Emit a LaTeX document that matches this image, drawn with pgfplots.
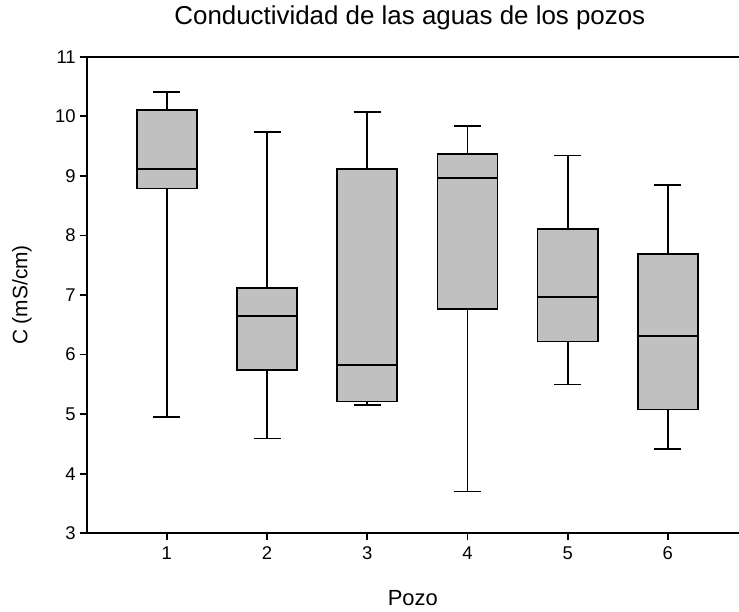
\documentclass[border=0pt]{standalone}
\usepackage{pgfplots}
\pgfplotsset{compat=1.18}
\usepgfplotslibrary{statistics}
\usepackage{fontspec}
\setmainfont{Liberation Sans}
\definecolor{boxgray}{RGB}{192,192,192}
\newcommand{\tickfont}{\fontsize{18.5}{18.5}\selectfont}

\begin{document}
\begin{tikzpicture}
  \begin{axis}[
      scale only axis,
      width=652.3bp, height=476.6bp,
      xmin=0.2, xmax=6.71,
      ymin=3, ymax=11,
      xtick={1,2,3,4,5,6},
      ytick={3,4,5,6,7,8,9,10,11},
      xticklabel={\tickfont\pgfmathprintnumber[assume math mode=true]{\tick}},
      yticklabel={\tickfont\pgfmathprintnumber[assume math mode=true]{\tick}},
      xtick pos=bottom, ytick pos=left,
      tick align=outside,
      major tick length=7bp,
      tick style={black, line width=1.7bp},
      axis line style={draw=none},
      yticklabel style={xshift=-0.5bp},
      xticklabel style={yshift=-3bp},
      title={Conductividad de las aguas de los pozos},
      title style={font=\fontsize{26}{26}\selectfont, at={(axis description cs:0.5,1)}, anchor=base, yshift=26bp, xshift=-3bp},
      xlabel={Pozo},
      xlabel style={font=\fontsize{22}{22}\selectfont, at={(axis description cs:0.5,0)}, anchor=base, yshift=-72bp},
      ylabel={C (mS/cm)},
      ylabel style={font=\fontsize{21}{21}\selectfont, at={(axis description cs:0,0.5)}, anchor=center, yshift=64.7bp},
      boxplot/draw direction=y,
      clip=false,
    ]
    \addplot[boxplot prepared={draw position=1, lower whisker=4.95, lower quartile=8.79, median=9.12, upper quartile=10.11, upper whisker=10.41, box extend=0.6, whisker extend=0.27}, fill=boxgray, draw=black, line width=1.7bp] coordinates {};
    \addplot[boxplot prepared={draw position=2, lower whisker=4.59, lower quartile=5.74, median=6.65, upper quartile=7.12, upper whisker=9.74, box extend=0.6, whisker extend=0.27}, fill=boxgray, draw=black, line width=1.7bp] coordinates {};
    \addplot[boxplot prepared={draw position=3, lower whisker=5.15, lower quartile=5.21, median=5.83, upper quartile=9.11, upper whisker=10.07, box extend=0.6, whisker extend=0.27}, fill=boxgray, draw=black, line width=1.7bp] coordinates {};
    \addplot[boxplot prepared={draw position=4, lower whisker=3.70, lower quartile=6.77, median=8.96, upper quartile=9.37, upper whisker=9.84, box extend=0.6, whisker extend=0.27}, fill=boxgray, draw=black, line width=1.7bp] coordinates {};
    \addplot[boxplot prepared={draw position=5, lower whisker=5.50, lower quartile=6.22, median=6.97, upper quartile=8.11, upper whisker=9.34, box extend=0.6, whisker extend=0.27}, fill=boxgray, draw=black, line width=1.7bp] coordinates {};
    \addplot[boxplot prepared={draw position=6, lower whisker=4.41, lower quartile=5.08, median=6.31, upper quartile=7.69, upper whisker=8.85, box extend=0.6, whisker extend=0.27}, fill=boxgray, draw=black, line width=1.7bp] coordinates {};
    % left, bottom and top axis lines (no right one)
    \draw[black, line width=1.9bp] (rel axis cs:1,1) -- (rel axis cs:0,1) -- (rel axis cs:0,0) -- (rel axis cs:1,0);
    \coordinate (BL) at (rel axis cs:0,0);
    \coordinate (TR) at (rel axis cs:1,1);
  \end{axis}
  \pgfresetboundingbox
  \path[use as bounding box] ([xshift=-86.7bp,yshift=-78.7bp]BL) rectangle ([yshift=56.7bp]TR);
\end{tikzpicture}
\end{document}
